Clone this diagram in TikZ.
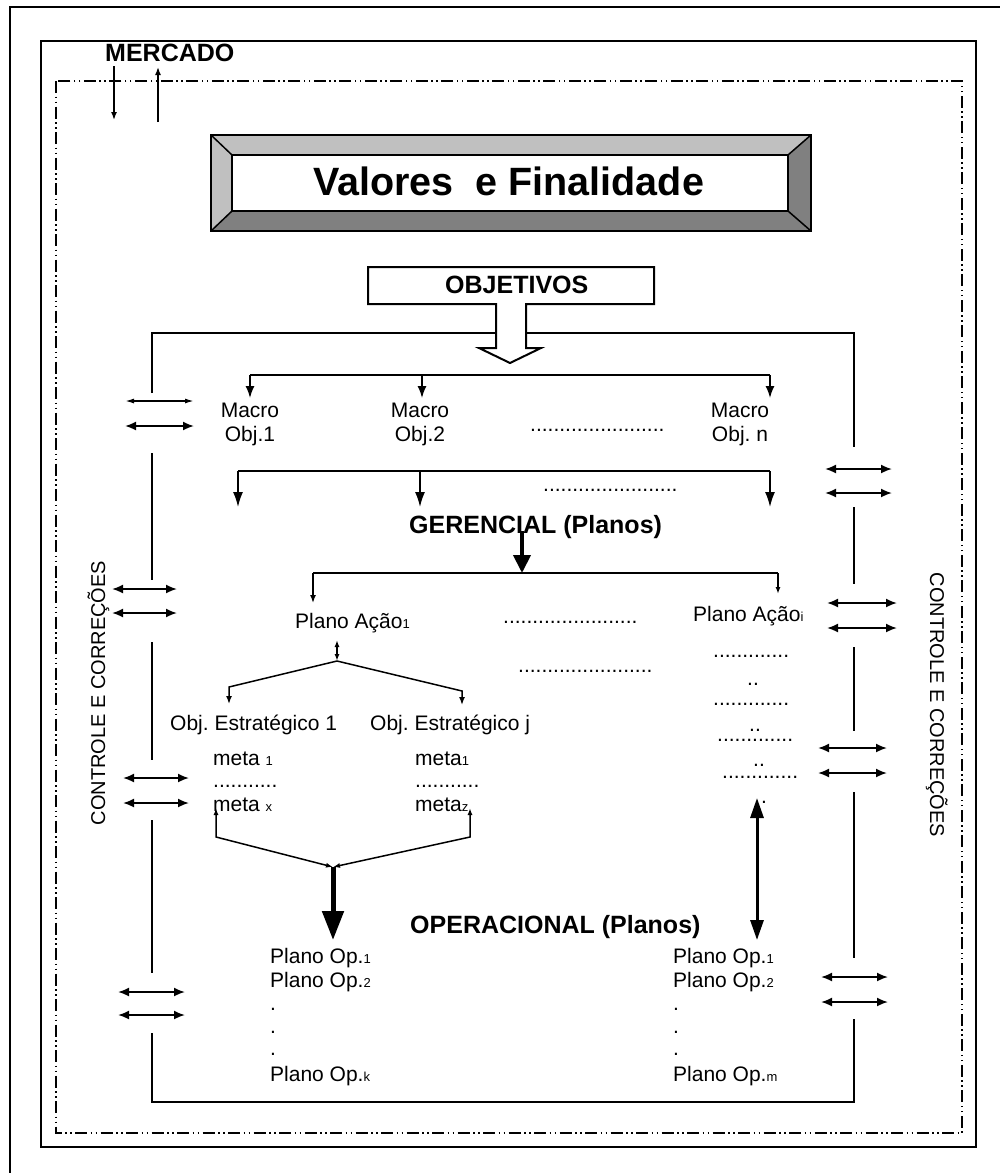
\documentclass[tikz,border=0pt]{standalone}
\usepackage{fontspec}
\setmainfont{Liberation Sans}
\usetikzlibrary{arrows.meta}
\frenchspacing
\newcommand{\lo}[1]{{\fontsize{13}{13}\selectfont #1}}
\definecolor{bevellight}{HTML}{C0C0C0}
\definecolor{beveldark}{HTML}{808080}
\begin{document}
\begin{tikzpicture}[x=1pt,y=-1pt,line join=miter,
  txt/.style={inner sep=0pt, anchor=base west, font=\fontsize{21}{25}\selectfont},
  ctxt/.style={inner sep=0pt, anchor=base, font=\fontsize{21}{25}\selectfont},
  btxt/.style={inner sep=0pt, anchor=base west, font=\fontsize{25}{30}\selectfont\bfseries},
  sidetxt/.style={inner sep=0pt, anchor=base, font=\fontsize{20}{24}\selectfont},
  frame/.style={line width=2pt},
  loopline/.style={line width=2pt},
  dashdot/.style={line width=1.5pt, dash pattern=on 12pt off 3.5pt on 1.5pt off 3.5pt on 1.5pt off 3.5pt},
  thinline/.style={line width=1.5pt},
  tipA/.style={-{Latex[length=12pt,width=9pt]}},
  tipB/.style={-{Latex[length=15pt,width=10pt]}},
  tipC/.style={-{Latex[length=8pt,width=6pt]}},
  dbl/.style={line width=1.8pt,{Latex[length=11pt,width=9pt]}-{Latex[length=11pt,width=9pt]}},
  dblthin/.style={line width=1.5pt,{Latex[length=9pt,width=5pt]}-{Latex[length=9pt,width=5pt]}},
  dblsmall/.style={line width=1.5pt,{Latex[length=7pt,width=5pt]}-{Latex[length=7pt,width=5pt]}},
]
\useasboundingbox (0,0) rectangle (1000,1173);
\fill[white] (0,0) rectangle (1000,1173);

% page frames
\draw[frame] (10,1176) -- (10,7) -- (1003,7);
\draw[frame] (41,41) rectangle (976,1147);
\draw[dashdot] (56,81) rectangle (962,1133);

% market exchange
\node[btxt] (merc) at (105,61) {MERCADO};
\coordinate (mdA) at (114,66);  \coordinate (mdB) at (114,120);
\coordinate (muA) at (158,122); \coordinate (muB) at (158,67);
\draw[thinline,-{Latex[length=8pt,width=6pt]}] (mdA) -- (mdB);
\draw[thinline,-{Latex[length=8pt,width=6pt]}] (muA) -- (muB);

% bevelled title box
\fill[bevellight] (211,135) -- (811,135) -- (788,155) -- (232,155) -- cycle;
\fill[bevellight] (211,135) -- (232,155) -- (232,211) -- (211,231) -- cycle;
\fill[beveldark] (211,231) -- (232,211) -- (788,211) -- (811,231) -- cycle;
\fill[beveldark] (811,135) -- (811,231) -- (788,211) -- (788,155) -- cycle;
\draw[frame] (211,135) rectangle (811,231);
\draw[frame,fill=white] (232,155) rectangle (788,211);
\draw[line width=1.5pt] (211,135) -- (232,155) (811,135) -- (788,155)
  (211,231) -- (232,211) (811,231) -- (788,211);
\node[inner sep=0pt, anchor=base west, font=\fontsize{39.5}{45}\selectfont\bfseries] (val) at (313,195) {Valores\ \ e Finalidade};

% control loop
\draw[loopline] (152,393) -- (152,333) -- (854,333) -- (854,447);
\draw[loopline] (152,453) -- (152,580);
\draw[loopline] (152,642) -- (152,760);
\draw[loopline] (152,820) -- (152,973);
\draw[loopline] (854,507) -- (854,584);
\draw[loopline] (854,647) -- (854,731);
\draw[loopline] (854,792) -- (854,958);
\draw[loopline] (152,1033) -- (152,1102) -- (854,1102) -- (854,1019);

% exchanges on the left side of the loop
\draw[dblthin] (125,401) -- (194,401);
\draw[dbl] (125,426) -- (194,426);
\draw[dbl] (112,589) -- (177,589);
\draw[dbl] (112,613) -- (177,613);
\draw[dbl] (123,778) -- (189,778);
\draw[dbl] (123,803) -- (189,803);
\draw[dbl] (118,992) -- (185,992);
\draw[dbl] (118,1015) -- (185,1015);
% exchanges on the right side of the loop
\draw[dbl] (825,469) -- (892,469);
\draw[dbl] (825,493) -- (892,493);
\draw[dbl] (827,603) -- (897,603);
\draw[dbl] (827,628) -- (897,628);
\draw[dbl] (818,748) -- (887,748);
\draw[dbl] (818,773) -- (887,773);
\draw[dbl] (821,977) -- (888,977);
\draw[dbl] (821,1002) -- (888,1002);

\node[sidetxt, rotate=90] (ctlL) at (105,693) {CONTROLE E CORREÇÕES};
\node[sidetxt, rotate=-90] (ctlR) at (930,705) {CONTROLE E CORREÇÕES};

% objectives callout
\draw[line width=2pt, fill=white] (368,267) -- (654,267) -- (654,304) -- (526,304)
  -- (526,348) -- (541,348) -- (510,363) -- (479,348) -- (496,348) -- (496,304)
  -- (368,304) -- cycle;
\node[btxt] (obj) at (445,293) {OBJETIVOS};

% macro objectives
\coordinate (b1L) at (250,375); \coordinate (b1M) at (422,375); \coordinate (b1R) at (770,375);
\draw[loopline] (b1L) -- (b1R);
\draw[thinline,tipA] (b1L) -- (250,398);
\draw[thinline,tipA] (b1M) -- (422,398);
\draw[thinline,tipA] (b1R) -- (770,398);
\node[ctxt] (mo1a) at (250,417) {Macro};
\node[ctxt] (mo1b) at (250,441) {Obj.1};
\node[ctxt] (mo2a) at (420,417) {Macro};
\node[ctxt] (mo2b) at (420,441) {Obj.2};
\node[ctxt] (mona) at (740,417) {Macro};
\node[ctxt] (monb) at (740,441) {Obj. n};
\node[txt] (dotsA) at (530,431) {.......................};

% managerial level
\coordinate (b2L) at (238,471); \coordinate (b2M) at (420,471); \coordinate (b2R) at (770,471);
\draw[loopline] (b2L) -- (b2R);
\draw[thinline,tipB] (b2L) -- (238,507);
\draw[thinline,tipB] (b2M) -- (420,507);
\draw[thinline,tipB] (b2R) -- (770,507);
\node[txt] (dotsB) at (543,491) {.......................};
\node[btxt] (ger) at (409,533) {GERENCIAL (Planos)};
\coordinate (b3L) at (313,573); \coordinate (b3M) at (522,573); \coordinate (b3R) at (778,573);
\draw[line width=4pt,-{Triangle[length=18pt,width=17pt]}] (522,531) -- (b3M);
\draw[loopline] (b3L) -- (b3R);
\draw[thinline,tipC] (b3L) -- (313,603);
\draw[thinline,-{Latex[length=7pt,width=5pt]}] (b3R) -- (778,594);

\node[txt] (pa1) at (295,628) {Plano Ação\lo{1}};
\node[txt] (pai) at (693,621) {Plano Ação\lo{i}};
\node[txt] (dotsC) at (503,623) {.......................};
\node[txt] (dotsD) at (518,672) {.......................};

% right column of action plan items
\node[txt] (r1) at (713,657) {.............};
\node[txt] (r1b) at (747,685) {..};
\node[txt] (r2) at (713,705) {.............};
\node[txt] (r2b) at (749,731) {..};
\node[txt] (r3) at (717,741) {.............};
\node[txt] (r3b) at (753,766) {..};
\node[txt] (r4) at (722,778) {.............};
\node[txt] (r4b) at (761,803) {.};

% strategic objectives of plan 1
\coordinate (fkTop) at (337,640); \coordinate (fk) at (337,661);
\draw[dblsmall] (fkTop) -- (fk);
\draw[thinline,tipC] (fk) -- (229,687) -- (229,704);
\draw[thinline,tipC] (fk) -- (462,691) -- (462,705);
\node[txt] (oe1) at (170,730) {Obj. Estratégico 1};
\node[txt] (oej) at (370,730) {Obj. Estratégico j};
\node[txt] (m11) at (213,765) {meta \lo{1}};
\node[txt] (m1d) at (213,787) {...........};
\node[txt] (m1x) at (213,811) {meta \lo{x}};
\node[txt] (mj1) at (415,765) {meta\lo{1}};
\node[txt] (mjd) at (415,787) {...........};
\node[txt] (mjz) at (415,811) {meta\lo{z}};
\coordinate (cv) at (333,867);
\draw[dblsmall] (216,808) -- (216,837) -- (cv);
\draw[dblsmall] (470,808) -- (470,837) -- (cv);

% operational level
\draw[line width=5pt,-{Triangle[length=29pt,width=21pt]}] (cv) -- (333,940);
\draw[line width=3pt,{Triangle[length=20pt,width=13pt]}-{Triangle[length=20pt,width=13pt]}] (757,798) -- (757,940);
\node[btxt] (opl) at (410,933) {OPERACIONAL (Planos)};

\node[txt] (ok1) at (270,963) {Plano Op.\lo{1}};
\node[txt] (ok2) at (270,987) {Plano Op.\lo{2}};
\node[txt] (okd1) at (270,1010) {.};
\node[txt] (okd2) at (270,1033) {.};
\node[txt] (okd3) at (270,1055) {.};
\node[txt] (okk) at (270,1081) {Plano Op.\lo{k}};

\node[txt] (om1) at (673,963) {Plano Op.\lo{1}};
\node[txt] (om2) at (673,987) {Plano Op.\lo{2}};
\node[txt] (omd1) at (673,1010) {.};
\node[txt] (omd2) at (673,1033) {.};
\node[txt] (omd3) at (673,1055) {.};
\node[txt] (omm) at (673,1081) {Plano Op.\lo{m}};
\end{tikzpicture}
\end{document}
